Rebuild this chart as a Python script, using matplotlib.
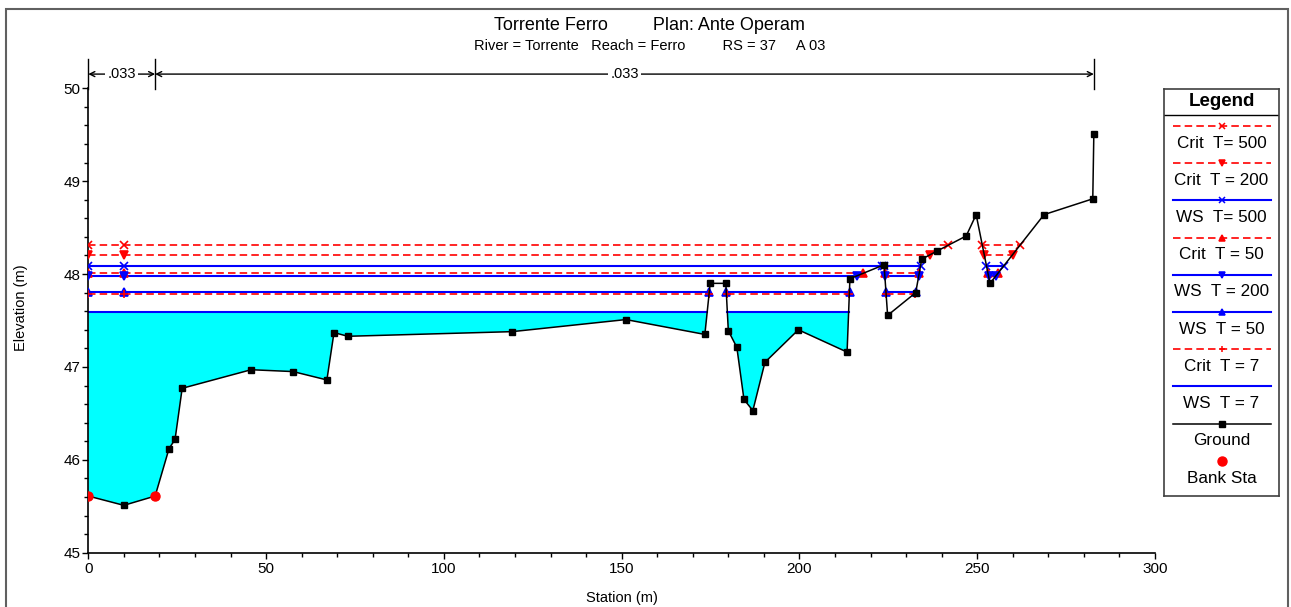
import matplotlib.pyplot as plt
from matplotlib.patches import Rectangle
from matplotlib.ticker import MultipleLocator
import numpy as np

plt.rcParams['font.family'] = ['Liberation Sans', 'DejaVu Sans']

# ground points of the cross section (station m, elevation m)
station = [0.0, 10.0, 18.8, 22.7, 24.4, 26.4, 45.8, 57.6, 67.1, 69.1, 73.0,
           119.2, 151.2, 173.4, 174.9, 179.3, 180.0, 182.4, 184.4, 186.9,
           190.3, 199.7, 213.4, 214.2, 223.8, 224.8, 232.7, 234.4, 238.8,
           246.9, 249.7, 253.6, 268.8, 282.5, 282.8]
elevation = [45.61, 45.51, 45.61, 46.12, 46.22, 46.77, 46.97, 46.95, 46.86, 47.37, 47.33,
             47.38, 47.51, 47.35, 47.90, 47.90, 47.39, 47.21, 46.65, 46.53,
             47.05, 47.40, 47.16, 47.95, 48.10, 47.555, 47.80, 48.16, 48.25,
             48.41, 48.64, 47.90, 48.64, 48.81, 49.51]
bank_sta = [0.0, 18.8]
bank_elev = [45.61, 45.61]

# profiles, in legend order
profiles = ['Crit  T= 500', 'Crit  T = 200', 'WS  T= 500', 'Crit  T = 50',
            'WS  T = 200', 'WS  T = 50', 'Crit  T = 7', 'WS  T = 7']
levels = [48.31, 48.21, 48.09, 48.01, 47.98, 47.81, 47.78, 47.59]
# wet stretches of each profile (from, to)
extents = [
    [(0, 241.8), (251.4, 262.0)],
    [(0, 236.8), (252.0, 260.0)],
    [(0, 223.2), (223.8, 234.1), (252.6, 257.5)],
    [(0, 218.0), (224.0, 233.7), (253.0, 255.9)],
    [(0, 216.1), (224.0, 233.6), (253.2, 255.2)],
    [(0, 174.6), (179.4, 214.1), (224.3, 232.8)],
    [(0, 174.6), (179.5, 214.0), (224.4, 232.6)],
    [(0, 174.0), (179.7, 213.8)],
]
mark_sta = 10.0

# manning's n
n_sta = [0.0, 18.8, 282.8]
n_vals = ['.033', '.033']

markers = ['x', 'v', 'x', '^', 'v', '^', '+', None]


def style(name):
    if name.startswith('Crit'):
        return dict(color='red', ls=(0, (4.5, 2.5)), lw=1.2)
    return dict(color='blue', ls='-', lw=1.5)


W, H = 1291, 607
fig = plt.figure(figsize=(W / 100, H / 100), dpi=100)
ax = fig.add_axes([88.3 / W, 1 - 552.7 / H, (1155 - 88.3) / W, (552.7 - 88.3) / H])

st = np.array(station)
gr = np.array(elevation)
ws7 = levels[-1]
ax.fill_between(st, gr, ws7, where=(gr < ws7) & (st < 215), interpolate=True,
                color='#00ffff', lw=0, zorder=1)

for name, lev, ext, mk in zip(profiles, levels, extents, markers):
    s = style(name)
    for i, (a, b) in enumerate(ext):
        ax.plot([a, b], [lev, lev], zorder=2, **s)
        if mk:
            pts = [a, b] + ([mark_sta] if i == 0 else [])
            ax.plot(pts, [lev] * len(pts), ls='none', marker=mk, color=s['color'],
                    ms=5.5, mew=1.2, zorder=3)

ax.plot(st, gr, color='black', lw=1.1, marker='s', ms=5, zorder=4)
ax.plot(bank_sta, bank_elev, ls='none', marker='o', color='red', ms=6.5, zorder=5)

# manning's n stretches above the plot
ny = 50.153
for s in n_sta:
    ax.plot([s, s], [49.99, 50.314], color='black', lw=1, clip_on=False)
for i, v in enumerate(n_vals):
    a, b = n_sta[i], n_sta[i + 1]
    ax.annotate('', xy=(a, ny), xytext=(b, ny), annotation_clip=False,
                arrowprops=dict(arrowstyle='<->', lw=1, shrinkA=0, shrinkB=0, mutation_scale=9))
    ax.text((a + b) / 2, ny, v, ha='center', va='center', fontsize=10.5, clip_on=False,
            bbox=dict(fc='white', ec='none', pad=1.5))

ax.set_xlim(0, 300)
ax.set_ylim(45, 50)
ax.xaxis.set_major_locator(MultipleLocator(50))
ax.xaxis.set_minor_locator(MultipleLocator(10))
ax.yaxis.set_major_locator(MultipleLocator(1))
ax.yaxis.set_minor_locator(MultipleLocator(0.2))
ax.tick_params(which='major', direction='out', length=4.5, width=1, labelsize=11, pad=2)
ax.tick_params(which='minor', direction='out', length=3, width=1)
ax.tick_params(axis='y', which='major', pad=1)
for side in ['top', 'right']:
    ax.spines[side].set_visible(False)
for side in ['left', 'bottom']:
    ax.spines[side].set_linewidth(1.2)

fig.text(649 / W, 1 - 25 / H, 'Torrente Ferro         Plan: Ante Operam',
         ha='center', va='center', fontsize=13)
fig.text(649.5 / W, 1 - 46 / H, 'River = Torrente   Reach = Ferro         RS = 37     A 03',
         ha='center', va='center', fontsize=10.5)
fig.text(21 / W, 1 - 308 / H, 'Elevation (m)', rotation=90, ha='center', va='center', fontsize=10.5)
fig.text(622 / W, 1 - 598 / H, 'Station (m)', ha='center', va='center', fontsize=10.5)

# legend box drawn by hand, handle above label like the HEC-RAS one
lax = fig.add_axes([1164 / W, 1 - 496 / H, 115 / W, 407 / H])
lax.set_xlim(1164, 1279)
lax.set_ylim(496, 89)
lax.set_xticks([])
lax.set_yticks([])
for sp in lax.spines.values():
    sp.set_color('#404040')
    sp.set_linewidth(1.2)
lax.text(1221.5, 101, 'Legend', ha='center', va='center', fontsize=13.5, fontweight='bold')
lax.plot([1164, 1279], [115, 115], color='black', lw=1)
step = 37.2
for i, (name, mk) in enumerate(zip(profiles, markers)):
    yl = 126 + step * i
    s = style(name)
    lax.plot([1173, 1271], [yl, yl], **s)
    if mk:
        lax.plot([1222], [yl], marker=mk, color=s['color'], ms=4.5, mew=1.1)
    lax.text(1221.5, yl + 17, name, ha='center', va='center', fontsize=12.3)
yl = 126 + step * len(profiles)
lax.plot([1173, 1271], [yl, yl], color='black', lw=1.1)
lax.plot([1222], [yl], marker='s', color='black', ms=4.5)
lax.text(1221.5, yl + 17, 'Ground', ha='center', va='center', fontsize=12.3)
yl += step
lax.plot([1222], [yl], marker='o', color='red', ms=6.5)
lax.text(1221.5, yl + 17.5, 'Bank Sta', ha='center', va='center', fontsize=12.3)

# outer frame of the plot window
fig.patches.append(Rectangle((6 / W, -0.02), (1288 - 6) / W, 1.02 - 9 / H, fill=False,
                             ec='#606060', lw=1.5, transform=fig.transFigure))

fig.savefig('out.png', dpi=100)
